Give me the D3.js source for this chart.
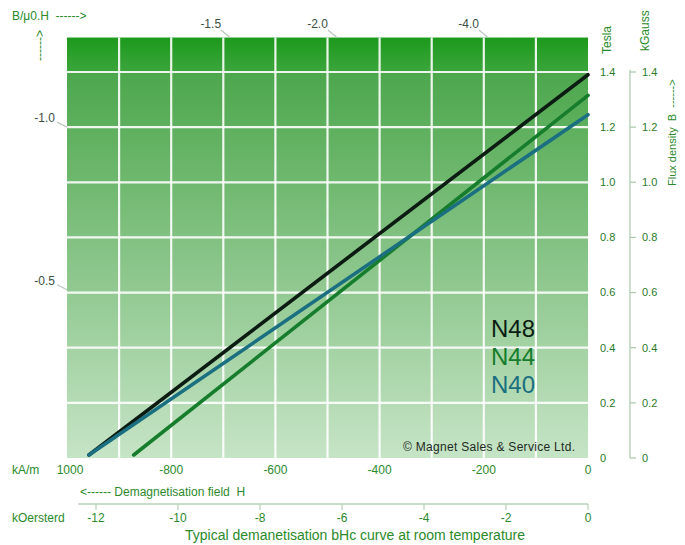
<!DOCTYPE html>
<html><head><meta charset="utf-8">
<script src="https://cdn.jsdelivr.net/npm/d3@7"></script>
<style>body{margin:0;background:#fff}text{font-family:"Liberation Sans",Arial,sans-serif;white-space:pre}</style>
</head><body><svg id="c" width="685" height="545"></svg>
<script>
// ---- data ----
const grades = ["N48", "N44", "N40"];
const gradeColors = ["#0c1c12", "#167d2c", "#1a6f80"];
const remanence = [1.39, 1.315, 1.245];     // B (Tesla) at H = 0
const coercivity = [-958, -872, -958];      // H (kA/m) at B = 0
const hTicks = [-1000, -800, -600, -400, -200, 0];
const hTickLabels = ["1000", "-800", "-600", "-400", "-200", "0"];
const oeTicks = [-12, -10, -8, -6, -4, -2, 0];
const bTicks = [0, 0.2, 0.4, 0.6, 0.8, 1.0, 1.2, 1.4];
const bTickLabels = ["0", "0.2", "0.4", "0.6", "0.8", "1.0", "1.2", "1.4"];
const permTopLabels = ["-1.5", "-2.0", "-4.0"];
const permTopH = [-687, -482, -192];
const permLeftLabels = ["-1.0", "-0.5"];
const permLeftB = [1.2, 0.61];
const gridH = [-900, -800, -700, -600, -500, -400, -300, -200, -100];

// ---- scales ----
const x = d3.scaleLinear().domain([-1000, 0]).range([67, 588]);
const y = d3.scaleLinear().domain([0, 1.4]).range([458, 72]);
const bMax = 1.525;
const xOe = d3.scaleLinear().domain([-12, 0]).range([96, 588]);

const svg = d3.select("#c");
const defs = svg.append("defs");
const g1 = defs.append("linearGradient").attr("id", "gMain").attr("x1", 0).attr("y1", 0).attr("x2", 0).attr("y2", 1);
g1.append("stop").attr("offset", 0).attr("stop-color", "#4ca74c");
g1.append("stop").attr("offset", 0.5).attr("stop-color", "#8ac58a");
g1.append("stop").attr("offset", 1).attr("stop-color", "#c6e4c6");
const g2 = defs.append("linearGradient").attr("id", "gTop").attr("x1", 0).attr("y1", 0).attr("x2", 0).attr("y2", 1);
g2.append("stop").attr("offset", 0).attr("stop-color", "#1c9a1c");
g2.append("stop").attr("offset", 1).attr("stop-color", "#3ca53c");

const green = "#2b8a2b";
const dark = "#3a4f42";

// plot background
svg.append("rect").attr("x", x(-1000)).attr("y", y(1.4)).attr("width", x(0) - x(-1000)).attr("height", y(0) - y(1.4)).attr("fill", "url(#gMain)");
svg.append("rect").attr("x", x(-1000)).attr("y", y(bMax)).attr("width", x(0) - x(-1000)).attr("height", y(1.4) - y(bMax)).attr("fill", "url(#gTop)");

// grid
svg.append("g").selectAll("line").data(gridH).join("line")
  .attr("x1", d => x(d)).attr("x2", d => x(d)).attr("y1", y(bMax)).attr("y2", y(0))
  .attr("stroke", "#fff").attr("stroke-width", 2.2).attr("opacity", 0.9);
svg.append("g").selectAll("line").data(bTicks.slice(1)).join("line")
  .attr("x1", x(-1000)).attr("x2", x(0)).attr("y1", d => y(d)).attr("y2", d => y(d))
  .attr("stroke", "#fff").attr("stroke-width", 2.2).attr("opacity", 0.9);

// copyright
svg.append("text").attr("x", 403).attr("y", 451).attr("font-size", 12).attr("fill", "#1e2a22")
  .attr("letter-spacing", 0.3).text("\u00A9 Magnet Sales & Service Ltd.");

// curves
const order = [0, 1, 2];
svg.append("g").selectAll("line").data(order).join("line")
  .attr("x1", i => x(coercivity[i])).attr("y1", y(0) - 3)
  .attr("x2", x(0)).attr("y2", i => y(remanence[i]))
  .attr("stroke", i => gradeColors[i]).attr("stroke-width", 3.6).attr("stroke-linecap", "round");

// grade labels
svg.append("g").selectAll("text").data(order).join("text")
  .attr("x", 491).attr("y", i => 337 + i * 28)
  .attr("font-size", 24).attr("fill", i => gradeColors[i]).text(i => grades[i]);

// permeance labels top
permTopLabels.forEach((t, i) => {
  const px = x(permTopH[i]);
  svg.append("line").attr("x1", px - 9).attr("y1", 30).attr("x2", px).attr("y2", y(bMax)).attr("stroke", "#b9c7bd").attr("stroke-width", 1.2);
  svg.append("text").attr("x", px - 9).attr("y", 28).attr("text-anchor", "end").attr("font-size", 12).attr("fill", dark).text(t);
});
// permeance labels left
permLeftLabels.forEach((t, i) => {
  const py = y(permLeftB[i]);
  svg.append("line").attr("x1", 57).attr("y1", py - 5).attr("x2", x(-1000)).attr("y2", py).attr("stroke", "#b9c7bd").attr("stroke-width", 1.2);
  svg.append("text").attr("x", 55).attr("y", py - 5).attr("text-anchor", "end").attr("font-size", 12).attr("fill", dark).text(t);
});

svg.append("text").attr("x", 12).attr("y", 20).attr("font-size", 12).attr("fill", green).text("B/\u03BC0.H  ------>");
svg.append("text").attr("transform", "translate(44,61) rotate(-90)").attr("font-size", 12).attr("fill", green).text("------>");

// right Tesla axis
svg.append("text").attr("transform", "translate(611,54) rotate(-90)").attr("font-size", 12).attr("fill", green).text("Tesla");
svg.append("g").selectAll("text").data(bTicks).join("text")
  .attr("x", 600).attr("y", d => y(d)).attr("dy", "0.35em").attr("font-size", 11).attr("fill", "#2a7a2a")
  .text((d, i) => bTickLabels[i]);

// kGauss axis
svg.append("text").attr("transform", "translate(649,51) rotate(-90)").attr("font-size", 12).attr("fill", green).text("kGauss");
svg.append("line").attr("x1", 630).attr("x2", 630).attr("y1", y(1.4) - 2).attr("y2", y(0)).attr("stroke", "#a9c9a9").attr("stroke-width", 1.2);
svg.append("g").selectAll("line").data(bTicks).join("line")
  .attr("x1", 630).attr("x2", 636).attr("y1", d => y(d)).attr("y2", d => y(d)).attr("stroke", "#a9c9a9").attr("stroke-width", 1.2);
svg.append("g").selectAll("text").data(bTicks).join("text")
  .attr("x", 642).attr("y", d => y(d)).attr("dy", "0.35em").attr("font-size", 11).attr("fill", "#2a7a2a")
  .text((d, i) => bTickLabels[i]);
svg.append("text").attr("transform", "translate(676,186) rotate(-90)").attr("font-size", 11).attr("fill", green).text("Flux density  B  ------>");

// bottom kA/m axis
svg.append("text").attr("x", 12).attr("y", 474).attr("font-size", 12).attr("fill", green).text("kA/m");
svg.append("g").selectAll("text").data(hTicks).join("text")
  .attr("x", d => x(d) + (d === -1000 ? 3 : 0)).attr("y", 474).attr("text-anchor", "middle").attr("font-size", 12).attr("fill", green)
  .text((d, i) => hTickLabels[i]);
svg.append("text").attr("x", 80).attr("y", 496).attr("font-size", 12).attr("fill", green).text("<------ Demagnetisation field  H");

// kOe axis
svg.append("line").attr("x1", 78).attr("x2", x(0)).attr("y1", 504).attr("y2", 504).attr("stroke", "#b8d2b8").attr("stroke-width", 1.5);
svg.append("g").selectAll("line").data(oeTicks).join("line")
  .attr("x1", d => xOe(d)).attr("x2", d => xOe(d)).attr("y1", 504).attr("y2", 510).attr("stroke", "#b8d2b8").attr("stroke-width", 1.2);
svg.append("text").attr("x", 12).attr("y", 522).attr("font-size", 12).attr("fill", green).text("kOersterd");
svg.append("g").selectAll("text").data(oeTicks).join("text")
  .attr("x", d => xOe(d)).attr("y", 522).attr("text-anchor", "middle").attr("font-size", 12).attr("fill", green).text(d => d);

svg.append("text").attr("x", 355).attr("y", 540).attr("text-anchor", "middle").attr("font-size", 14).attr("fill", green)
  .text("Typical demanetisation bHc curve at room temperature");
</script></body></html>
